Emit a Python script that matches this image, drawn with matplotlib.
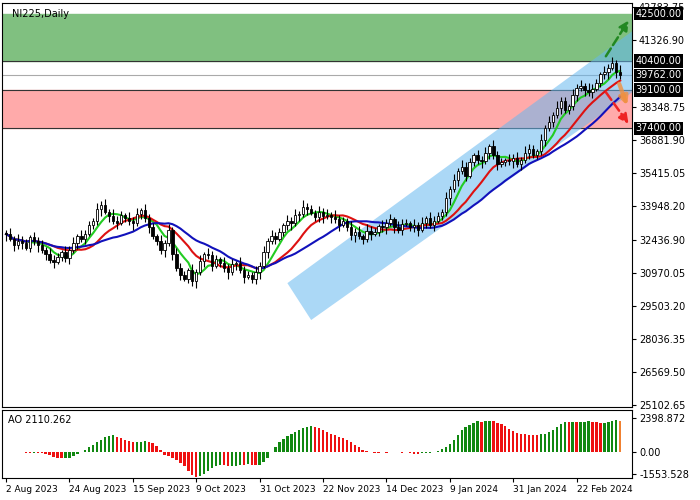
import numpy as np
import pandas as pd
import matplotlib
matplotlib.use('Agg')
import matplotlib.pyplot as plt
from matplotlib.patches import Polygon
import matplotlib.transforms as mtrans

closes = [32700,32500,32200,32400,32300,32100,32550,32400,
          32200,32000,31800,31550,31450,31700,31900,31650,
          32000,32300,32600,32500,32700,33100,33300,33800,
          34000,33700,33500,33300,33200,33550,33400,33300,
          33200,33600,33750,33400,33000,32600,32400,32000,
          32300,32900,31800,31200,30900,30700,31100,30600,
          31000,31500,31800,31750,31300,31600,31400,31200,
          31000,31350,31400,31100,30800,30900,30700,31000,
          31300,31900,32400,32600,32500,32800,33100,33300,
          33200,33550,33600,33900,33800,33650,33450,33700,
          33500,33550,33450,33350,33100,33300,33000,32650,
          32800,32600,32500,32850,32700,32800,33050,33000,
          33200,33350,33000,32900,33150,33200,33000,33100,
          32900,33200,33400,33100,33300,33500,33700,34300,
          34700,35100,35500,35700,35300,35900,36200,36000,
          35950,36300,36600,36200,35800,35900,36000,35950,
          36100,35800,36000,36300,36500,36200,36400,36900,
          37400,37700,38000,38300,38600,38200,38400,38900,
          39200,39300,39100,39000,39150,39400,39800,39900,
          40100,40300,39900,39762]
wicks = [150, 250, 120, 300, 200, 180, 100, 260]

date_labels = ['2 Aug 2023', '24 Aug 2023', '15 Sep 2023', '9 Oct 2023', '31 Oct 2023',
               '22 Nov 2023', '14 Dec 2023', '9 Jan 2024', '31 Jan 2024', '22 Feb 2024']
tick_prices = [42783.75, 41326.90, 38348.75, 36881.90, 35415.05, 33948.20,
               32436.90, 30970.05, 29503.20, 28036.35, 26569.50, 25102.65]
levels = [42500.00, 40400.00, 39762.00, 39100.00, 37400.00]
ao_ticks = [2398.872, 0.00, -1553.528]

c = np.array(closes, dtype=float)
o = np.r_[c[0] + 50, c[:-1]]
n = len(c)
w = np.array([wicks[i % len(wicks)] for i in range(n)])
hi = np.maximum(o, c) + w
lo = np.minimum(o, c) - w[::-1]
x = np.arange(n)

fig = plt.figure(figsize=(7, 5), dpi=100)
ax = fig.add_axes([0.003, 0.186, 0.9, 0.808])
ax2 = fig.add_axes([0.003, 0.044, 0.9, 0.136])

# zones
ax.axhspan(40400, 42500, color='#80c080', zorder=0)
ax.axhspan(37400, 39100, color='#ffaaaa', zorder=0)
ax.axhline(40400, color='#333333', lw=0.8, zorder=1)
ax.axhline(39762, color='#aaaaaa', lw=0.8, zorder=1)
ax.axhline(39100, color='#333333', lw=0.8, zorder=1)
ax.axhline(37400, color='#333333', lw=0.8, zorder=1)

# channel
chan = Polygon([(71, 30520), (77, 28880), (166, 40000), (161, 42100)],
               closed=True, color='#66b8f0', alpha=0.55, lw=0, zorder=1)
ax.add_patch(chan)

# moving averages
s = pd.Series(c)
ax.plot(x, s.rolling(6, min_periods=1).mean(), color='#22cc22', lw=1.5, zorder=3)
ax.plot(x, s.rolling(13, min_periods=1).mean(), color='#dd1111', lw=1.5, zorder=3)
ax.plot(x, s.rolling(22, min_periods=1).mean(), color='#1111bb', lw=1.5, zorder=3)

# candles
ax.vlines(x, lo, hi, color='black', lw=0.8, zorder=4)
up = c >= o
ax.bar(x[up], (c - o)[up], bottom=o[up], width=0.6, color='white', edgecolor='black', lw=0.6, zorder=5)
ax.bar(x[~up], (o - c)[~up], bottom=c[~up], width=0.6, color='black', edgecolor='black', lw=0.6, zorder=5)

# arrows
ax.annotate('', xy=(157.5, 42300), xytext=(151, 40500), annotation_clip=False,
            arrowprops=dict(arrowstyle='-|>', ls='--', color='#228822', lw=1.8, mutation_scale=14), zorder=6)
ax.annotate('', xy=(157.5, 37500), xytext=(151, 39100), annotation_clip=False,
            arrowprops=dict(arrowstyle='-|>', ls='--', color='#ee2222', lw=1.8, mutation_scale=14), zorder=6)
ax.annotate('', xy=(157, 38300), xytext=(154.5, 39500), annotation_clip=False,
            arrowprops=dict(arrowstyle='-|>', color='#f09040', lw=3, alpha=0.8, mutation_scale=12), zorder=6)

ax.set_xlim(-1, 158)
ax.set_ylim(25014, 42972)
ax.yaxis.tick_right()
ax.set_yticks(tick_prices)
ax.set_yticklabels(['%.2f' % t for t in tick_prices], fontsize=7)
ax.tick_params(axis='y', length=3, pad=2)
ax.set_xticks([])
trans = mtrans.blended_transform_factory(ax.transAxes, ax.transData)
for lv in levels:
    ax.text(1.005, lv, '%.2f' % lv, transform=trans, fontsize=7, color='white', va='center',
            ha='left', bbox=dict(facecolor='black', edgecolor='none', pad=1.2), zorder=10, clip_on=False)
ax.text(0.015, 0.985, 'NI225,Daily', transform=ax.transAxes, fontsize=7, va='top', ha='left')

# awesome oscillator
med = pd.Series((hi + lo) / 2)
ao = (med.rolling(5, min_periods=1).mean() - med.rolling(34, min_periods=1).mean()).values
ao = np.minimum(ao, 2398.872)
cols = ['#118811' if i == 0 or ao[i] >= ao[i - 1] else '#ee1111' for i in range(n)]
cols[-1] = '#f08030'
ax2.bar(x, ao, width=0.6, color=cols)
ax2.set_xlim(-1, 158)
ax2.set_ylim(-1834, 2963)
ax2.yaxis.tick_right()
ax2.set_yticks(ao_ticks)
ax2.set_yticklabels(['%.3f' % ao_ticks[0], '0.00', '%.3f' % ao_ticks[2]], fontsize=7)
ax2.tick_params(axis='y', length=3, pad=2)
ax2.set_xticks(np.arange(len(date_labels)) * 16)
ax2.set_xticklabels(date_labels, fontsize=6.5, ha='left')
ax2.tick_params(axis='x', length=3, pad=2)
ax2.text(0.01, 0.92, 'AO 2110.262', transform=ax2.transAxes, fontsize=7, va='top')

fig.savefig('out.png')
